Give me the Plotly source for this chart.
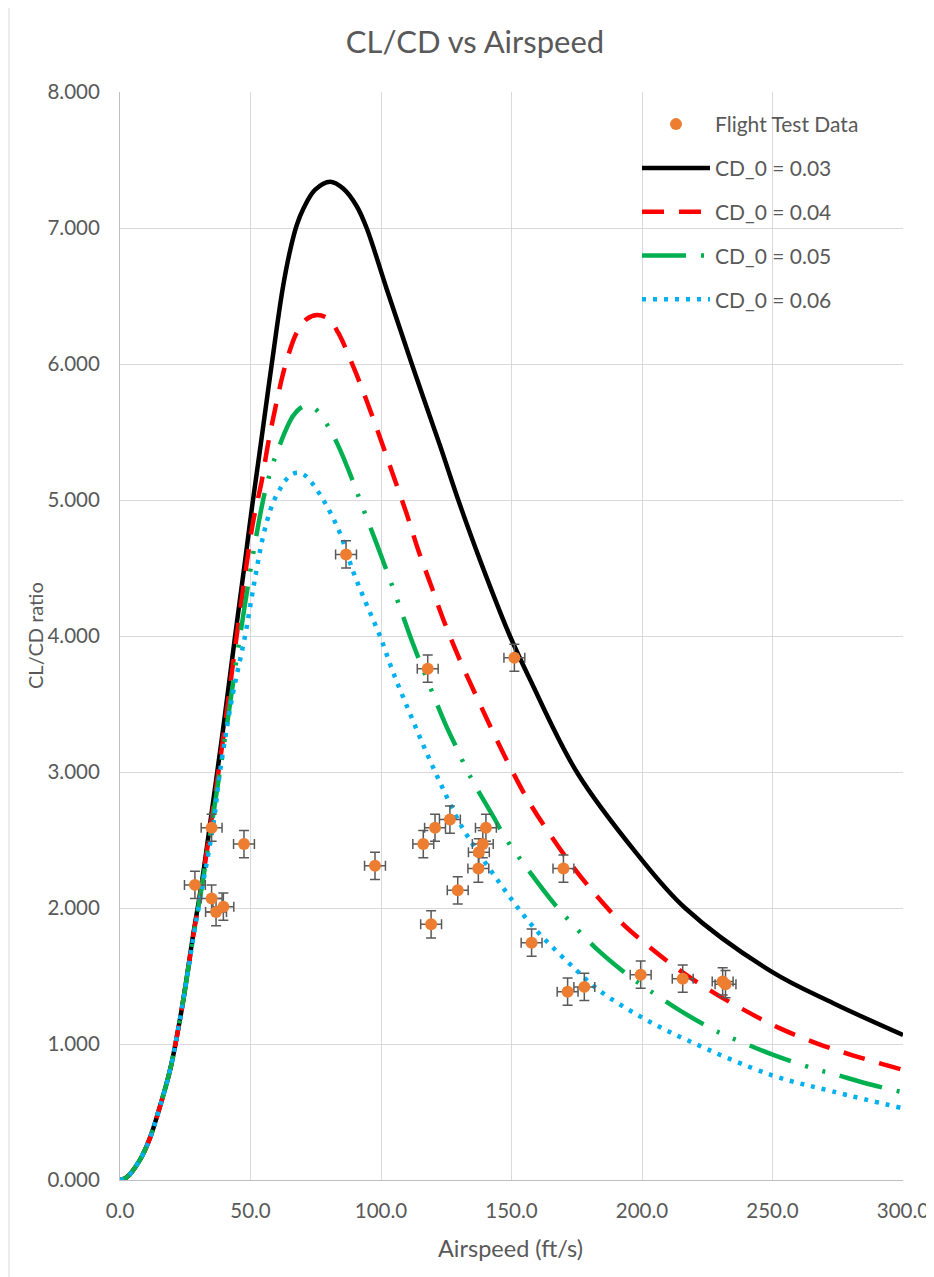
import plotly.graph_objects as go

# ---------------- data ----------------
test_speed = [28.7, 35.1, 35.1, 36.8, 39.6, 47.5, 86.6, 97.7, 117.9, 116.2, 120.7, 126.4,
              129.4, 119.2, 140.2, 139.0, 137.5, 137.3, 151.1, 169.9, 157.7, 171.5, 177.9,
              199.5, 215.6, 230.9, 232.0]
test_ratio = [2.17, 2.59, 2.07, 1.97, 2.01, 2.47, 4.60, 2.31, 3.76, 2.47, 2.59, 2.65,
              2.13, 1.88, 2.59, 2.47, 2.41, 2.29, 3.84, 2.29, 1.745, 1.385, 1.42,
              1.51, 1.48, 1.46, 1.44]
err_speed = 4.0
err_ratio = 0.1

cd03_x = [0, 2.6, 7.7, 11.5, 15.3, 19.2, 23.6, 28.1, 31.3, 35.1, 39.6, 44.1, 47.9, 50.6,
          54.0, 58.0, 62.3, 65.0, 67.7, 70.2, 74.7, 80.5, 85.5, 90.7, 94.5, 102.2,
          111.8, 122.6, 129.6, 137.9, 149.4, 157.1, 175.0, 198.0, 216.5,
          249.8, 273.3, 300.0]
cd03_y = [0, 0.02, 0.15, 0.31, 0.54, 0.81, 1.25, 1.81, 2.18, 2.70, 3.33, 4.0, 4.55, 4.95,
          5.42, 5.98, 6.55, 6.82, 7.02, 7.14, 7.28, 7.34, 7.29, 7.16, 7.0, 6.55,
          6.0, 5.40, 5.0, 4.56, 4.0, 3.68, 3.0, 2.40, 2.0,
          1.53, 1.30, 1.066]

cd04_x = [0, 2.6, 7.7, 11.5, 15.3, 19.2, 23.6, 28.1, 31.3, 35.3, 39.9, 44.7, 49.2, 51.1,
          54.3, 56.8, 60.0, 63.2, 67.7, 71.5, 75.6, 80.0, 83.6, 89.4, 94.5, 99.6, 104.7,
          109.8, 114.3, 119.4, 124.5, 130.3, 136.7, 143.0, 149.4, 156.4, 164.8, 173.7,
          182.6, 192.2, 203.1, 214.6, 227.3, 240.1, 252.9, 266.9, 281.0, 300.0]
cd04_y = [0, 0.02, 0.15, 0.31, 0.54, 0.81, 1.25, 1.80, 2.17, 2.68, 3.30, 4.0, 4.62, 4.85,
          5.14, 5.42, 5.72, 5.98, 6.23, 6.33, 6.36, 6.33, 6.23, 5.98, 5.73, 5.46, 5.18,
          4.90, 4.63, 4.36, 4.09, 3.82, 3.55, 3.29, 3.04, 2.79, 2.54, 2.30,
          2.09, 1.89, 1.71, 1.54, 1.38, 1.24, 1.115, 1.005, 0.915, 0.81]

cd05_x = [0, 2.6, 7.7, 11.5, 15.3, 19.2, 23.6, 28.1, 31.3, 35.5, 40.3, 46.0, 51.7, 55.3,
          57.5, 60.7, 66.4, 70.5, 74.1, 79.5, 83.6, 89.4, 92.3, 98.1, 103.7, 108.0, 112.1,
          118.5, 124.5, 128.4, 134.1, 143.4, 147.5, 156.4, 166.4, 172.4, 182.6, 195.4,
          202.4, 214.6, 229.5, 236.9, 250.3, 265.6, 273.3, 288.0, 300.0]
cd05_y = [0, 0.02, 0.15, 0.31, 0.54, 0.81, 1.25, 1.79, 2.15, 2.66, 3.26, 4.0, 4.68, 5.04,
          5.20, 5.38, 5.62, 5.69, 5.68, 5.55, 5.40, 5.13, 4.98, 4.69, 4.40, 4.17, 3.95,
          3.64, 3.36, 3.20, 2.97, 2.66, 2.52, 2.28, 2.03, 1.90, 1.70, 1.495,
          1.40, 1.245, 1.085, 1.024, 0.92, 0.82, 0.78, 0.70, 0.645]

cd06_x = [0, 2.6, 7.7, 11.5, 15.3, 19.2, 23.6, 28.1, 31.3, 35.8, 38.3, 43.0, 47.9, 51.5,
          54.9, 57.5, 59.1, 61.0, 63.2, 66.0, 68.3, 70.9, 73.4, 78.5, 84.0, 89.4, 94.5,
          99.6, 104.7, 111.1, 117.5, 123.9, 130.3, 134.1, 145.6, 158.4, 175.0, 183.9,
          199.5, 217.1, 249.8, 273.3, 300.0]
cd06_y = [0, 0.02, 0.15, 0.31, 0.54, 0.81, 1.25, 1.78, 2.13, 2.62, 3.0, 3.55, 4.0, 4.40,
          4.74, 4.92, 5.0, 5.07, 5.14, 5.19, 5.20, 5.18, 5.13, 4.98, 4.77, 4.47, 4.23,
          4.0, 3.73, 3.43, 3.14, 2.87, 2.62, 2.50, 2.18, 1.86, 1.54, 1.39,
          1.20, 1.03, 0.77, 0.65, 0.527]

x_ticks = [0, 50, 100, 150, 200, 250, 300]
y_ticks = [0, 1, 2, 3, 4, 5, 6, 7, 8]

# ---------------- figure ----------------
FONT = "Lato"
GRAY = "#595959"
GRID = "#D9D9D9"

# the page body has an 8px margin, so the figure is 8px smaller than the window
W, H = 926, 1269

fig = go.Figure()

curves = [
    ("CD_0 = 0.03", cd03_x, cd03_y, "#000000", "solid", 2),
    ("CD_0 = 0.04", cd04_x, cd04_y, "#FF0000", "22px,15px", 3),
    ("CD_0 = 0.05", cd05_x, cd05_y, "#00B050", "44px,15px,3px,15px,3px,15px", 4),
    ("CD_0 = 0.06", cd06_x, cd06_y, "#00B0F0", "4px,7px", 5),
]
for name, xs, ys, col, dash, rank in curves:
    fig.add_trace(go.Scatter(
        x=xs, y=ys, mode="lines", name=name,
        line=dict(color=col, width=4.5, dash=dash, shape="spline", smoothing=1.0),
        legendgroup=name, legendrank=rank,
    ))

fig.add_trace(go.Scatter(
    x=test_speed, y=test_ratio, mode="markers", name="Flight Test Data",
    marker=dict(color="#ED7D31", size=12),
    error_y=dict(type="constant", value=err_ratio, color=GRAY, thickness=1.5, width=5),
    error_x=dict(type="constant", value=err_speed, color=GRAY, thickness=1.5, width=5),
    legendgroup="ftd", legendrank=1,
))

fig.update_layout(
    width=W, height=H,
    paper_bgcolor="white", plot_bgcolor="white",
    margin=dict(l=112, r=31, t=84, b=97),
    font=dict(family=FONT, color=GRAY),
    title=dict(text="CL/CD vs Airspeed", x=(475 - 8) / W, xanchor="center",
               y=1 - (42 - 8) / H, yanchor="middle", yref="container",
               font=dict(size=31, color=GRAY, family=FONT)),
    showlegend=True,
    legend=dict(x=(637 - 120) / 783, y=0.989, xanchor="left", yanchor="top",
                bgcolor="rgba(0,0,0,0)", font=dict(size=21, color=GRAY),
                traceorder="grouped", tracegroupgap=13.5, itemwidth=68),
    xaxis=dict(range=[0, 300], tickvals=x_ticks, tickformat=".1f", automargin=False,
               showgrid=True, gridcolor=GRID, gridwidth=1, zeroline=False,
               showline=True, linecolor="#BFBFBF", linewidth=1,
               ticks="", ticklabelstandoff=12,
               tickfont=dict(size=20.5, color=GRAY, family=FONT)),
    yaxis=dict(range=[0, 8], tickvals=y_ticks, tickformat=".3f", automargin=False,
               showgrid=True, gridcolor=GRID, gridwidth=1, zeroline=False,
               showline=True, linecolor="#BFBFBF", linewidth=1,
               ticks="", ticklabelstandoff=15,
               tickfont=dict(size=20.5, color=GRAY, family=FONT)),
    annotations=[
        dict(text="Airspeed (ft/s)", xref="paper", yref="paper",
             x=(510 - 120) / 783, y=-(1248 - 1180) / 1088, xanchor="center", yanchor="middle",
             showarrow=False, font=dict(size=23.5, color=GRAY, family=FONT)),
        dict(text="CL/CD ratio", xref="paper", yref="paper",
             x=-(120 - 35) / 783, y=(1180 - 636) / 1088, xanchor="center", yanchor="middle",
             textangle=-90, showarrow=False, font=dict(size=20, color=GRAY, family=FONT)),
    ],
    shapes=[
        dict(type="line", xref="paper", yref="paper",
             x0=-(120 - 9) / 783, x1=-(120 - 9) / 783, y0=-97 / 1088, y1=1 + 84 / 1088,
             line=dict(color="#D9D9D9", width=1)),
    ],
)

fig.write_html("out.html")
